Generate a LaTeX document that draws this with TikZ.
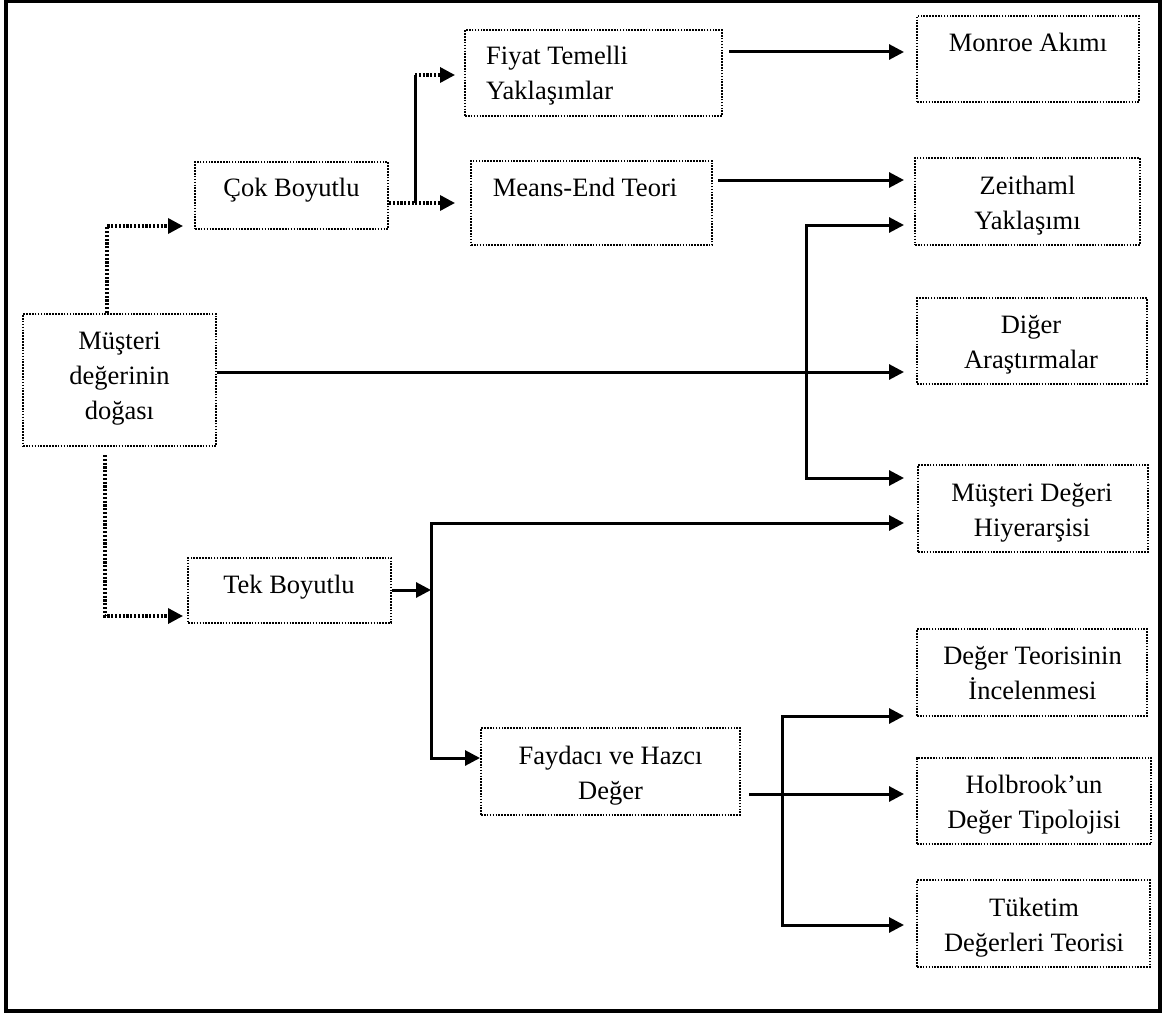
\documentclass[tikz,border=0pt]{standalone}
\usepackage{fontspec}
\setmainfont{Liberation Serif}
\usetikzlibrary{arrows.meta,calc}
\newcommand\bodyfnt{\fontsize{26.5}{35}\selectfont}
\begin{document}
\begin{tikzpicture}[x=1pt,y=-1pt,
  frame/.style={line width=3.2pt},
  box/.style={draw, line width=2pt, dash pattern=on 1.6pt off 1.3pt, inner sep=0pt},
  txt/.style={font=\bodyfnt, align=center, inner sep=0pt},
  conn/.style={line width=3pt},
  arr/.style={conn, -{Triangle[length=15pt,width=15pt]}},
  dotc/.style={line width=3.4pt, dash pattern=on 2.2pt off 1.6pt},
  dotarr/.style={dotc, -{Triangle[length=15pt,width=15pt]}}]
\useasboundingbox (0,0) rectangle (1162,1014);
\draw[frame] (6,1) rectangle (1160,1011);

% boxes
\node[box, minimum width=193pt, minimum height=67pt] (cok) at (291.5,195.5) {};
\node[box, minimum width=193pt, minimum height=132pt] (mus) at (119.5,380) {};
\node[box, minimum width=257pt, minimum height=86pt] (fiy) at (593.5,73) {};
\node[box, minimum width=241pt, minimum height=84pt] (mea) at (591.5,203) {};
\node[box, minimum width=222pt, minimum height=86pt] (mon) at (1028,59) {};
\node[box, minimum width=225pt, minimum height=87pt] (zei) at (1027.5,201.5) {};
\node[box, minimum width=230pt, minimum height=86pt] (dig) at (1032,341) {};
\node[box, minimum width=230pt, minimum height=87pt] (hiy) at (1033,508.5) {};
\node[box, minimum width=203pt, minimum height=65pt] (tek) at (289.5,590.5) {};
\node[box, minimum width=259pt, minimum height=87pt] (fay) at (610.5,771.5) {};
\node[box, minimum width=230pt, minimum height=87pt] (det) at (1032,672.5) {};
\node[box, minimum width=234pt, minimum height=86pt] (hol) at (1034,801) {};
\node[box, minimum width=233pt, minimum height=87pt] (tuk) at (1033.5,923.5) {};

% texts
\node[txt] (tcok) at (291.5,189) {\strut Çok Boyutlu};
\node[txt] (tmus) at (119.5,377) {\strut Müşteri\\\strut değerinin\\\strut doğası};
\node[txt, align=left, anchor=west] (tfiy) at (486,75.5) {\strut Fiyat Temelli\\\strut Yaklaşımlar};
\node[txt] (tmea) at (585,190) {\strut Means-End Teori};
\node[txt] (tmon) at (1028,45) {\strut Monroe Akımı};
\node[txt] (tzei) at (1027.5,205) {\strut Zeithaml\\\strut Yaklaşımı};
\node[txt] (tdig) at (1031,344) {\strut Diğer\\\strut Araştırmalar};
\node[txt] (thiy) at (1032,511.5) {\strut Müşteri Değeri\\\strut Hiyerarşisi};
\node[txt] (ttek) at (289,586) {\strut Tek Boyutlu};
\node[txt] (tfay) at (610.5,774.5) {\strut Faydacı ve Hazcı\\\strut Değer};
\node[txt] (tdet) at (1032.5,675) {\strut Değer Teorisinin\\\strut İncelenmesi};
\node[txt] (thol) at (1034,804) {\strut Holbrook’un\\\strut Değer Tipolojisi};
\node[txt] (ttuk) at (1034,927) {\strut Tüketim\\\strut Değerleri Teorisi};

% dotted connectors
\draw[dotarr, shorten >=11pt] (mus.north -| 107,0) |- (cok.west |- 0,226);
\draw[dotarr, shorten >=4pt] ($(mus.south -| 105,0)+(0,8)$) |- (tek.west |- 0,616);
\coordinate (j1) at (415,203);
\draw[dotc] (cok.east |- j1) -- (j1);
\draw[conn] (j1) -- (j1 |- 0,75);
\draw[dotarr, shorten >=9pt] (j1 |- 0,75) -- (fiy.west |- 0,75);
\draw[dotarr, shorten >=15pt] (j1) -- (mea.west |- j1);

% solid connectors
\draw[arr, shorten >=12pt] ($(fiy.east |- 0,52)+(6,0)$) -- (mon.west |- 0,52);
\draw[arr, shorten >=10pt] ($(mea.east |- 0,180)+(5,0)$) -- (zei.west |- 0,180);
\draw[arr, shorten >=12pt] (mus.east |- 0,372) -- (dig.west |- 0,372);
\coordinate (j4) at (806,372);
\draw[arr, shorten >=10pt] (j4) |- (zei.west |- 0,225);
\draw[arr, shorten >=13pt] (j4) |- (hiy.west |- 0,478);

\coordinate (j2) at (431,590);
\draw[arr] (tek.east |- j2) -- (j2);
\draw[arr, shorten >=13pt] (j2) |- (hiy.west |- 0,523);
\draw[arr] (j2) |- (fay.west |- 0,758);

\coordinate (j3) at (782,794);
\draw[conn] ($(fay.east |- j3)+(8,0)$) -- (j3);
\draw[arr, shorten >=12pt] (j3) |- (det.west |- 0,716);
\draw[arr, shorten >=12pt] (j3) -- (hol.west |- j3);
\draw[arr, shorten >=12pt] (j3) |- (tuk.west |- 0,925);
\end{tikzpicture}
\end{document}
